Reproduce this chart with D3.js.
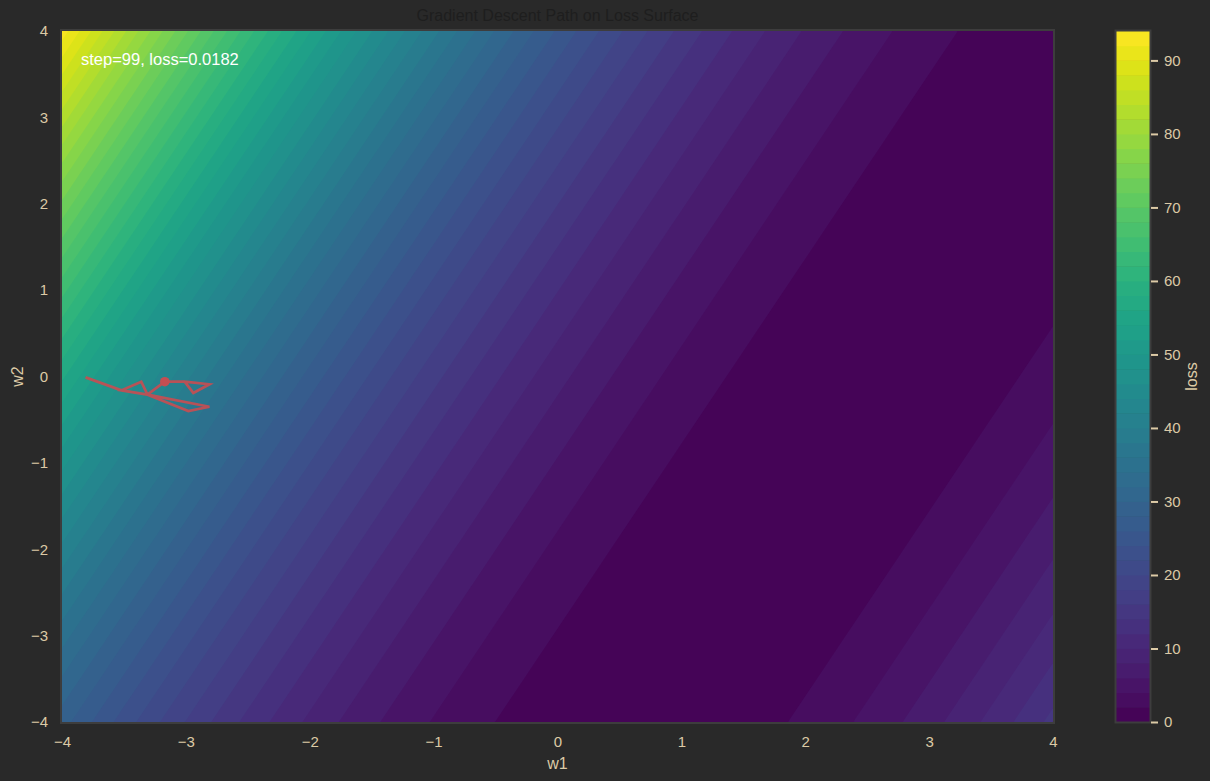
<!DOCTYPE html>
<html>
<head>
<meta charset="utf-8">
<script src="https://cdn.jsdelivr.net/npm/d3@7"></script>
<style>
  html, body { margin: 0; padding: 0; background: #292929; }
  svg { display: block; }
  text { font-family: "Liberation Sans", Arial, "DejaVu Sans", sans-serif; }
</style>
</head>
<body>
<svg id="chart" width="1210" height="781"></svg>
<script>
// ---------------- data ----------------
const xTicks = [-4, -3, -2, -1, 0, 1, 2, 3, 4];
const yTicks = [-4, -3, -2, -1, 0, 1, 2, 3, 4];
const colorbarTicks = [0, 10, 20, 30, 40, 50, 60, 70, 80, 90];
const contourLevels = [0,2,4,6,8,10,12,14,16,18,20,22,24,26,28,30,32,34,36,38,40,42,44,46,
                       48,50,52,54,56,58,60,62,64,66,68,70,72,74,76,78,80,82,84,86,88,90,92,94];
// loss surface, fitted from the band boundaries in the picture:
// loss = curvature * (w1 - valleyW2Slope*w2 - valleyIntercept)^2 + lossFloor
const valleyIntercept = [2.546];
const valleyW2Slope = [0.467];
const curvature = [1.313];
const lossFloor = [0.164];
// descent path (w1, w2)
const pathW1 = [-3.81, -3.52, -3.31, -2.81, -2.98, -3.31, -3.36, -3.52, -3.31, -3.17, -3.01, -2.81, -2.94, -3.01, -3.17];
const pathW2 = [-0.01, -0.16, -0.21, -0.35, -0.40, -0.21, -0.06, -0.16, -0.21, -0.06, -0.06, -0.09, -0.19, -0.06, -0.06];
const currentPoint = [-3.17, -0.06];
const annotation = "step=99, loss=0.0182";
const titleText = "Gradient Descent Path on Loss Surface";

// ---------------- drawing ----------------
const svg = d3.select('#chart');
const L = 62, R = 1053, T = 31, B = 722;
const labelColor = '#dccaa6';
const frameColor = '#3d3d3d';

const x = d3.scaleLinear().domain([-4, 4]).range([L, R]);
const y = d3.scaleLinear().domain([-4, 4]).range([B, T]);

const loss = (w1, w2) => {
  const d = w1 - valleyW2Slope[0] * w2 - valleyIntercept[0];
  return curvature[0] * d * d + lossFloor[0];
};

const nx = R - L, ny = B - T;
const values = new Float64Array(nx * ny);
for (let j = 0; j < ny; j++) {
  const w2 = y.invert(T + j + 0.5);
  for (let i = 0; i < nx; i++) {
    values[j * nx + i] = loss(x.invert(L + i + 0.5), w2);
  }
}
const lowerLevels = contourLevels.slice(0, -1);
const vmin = contourLevels[0], vmax = contourLevels[contourLevels.length - 1];
const color = d3.scaleSequential(d3.interpolateViridis).domain([vmin, vmax]);
const bandColor = (i) => color((contourLevels[i] + contourLevels[i + 1]) / 2);

const contours = d3.contours().size([nx, ny]).thresholds(lowerLevels)(values);

svg.append('defs').append('clipPath').attr('id', 'plotclip')
  .append('rect').attr('x', 0).attr('y', 0).attr('width', nx).attr('height', ny);

const gC = svg.append('g').attr('transform', `translate(${L},${T})`).attr('clip-path', 'url(#plotclip)');
gC.selectAll('path').data(contours).join('path')
  .attr('d', d3.geoPath())
  .attr('fill', (d, i) => bandColor(i))
  .attr('stroke', 'none');

// descent path
const line = d3.line().x(d => x(d[0])).y(d => y(d[1]));
const pts = pathW1.map((w, i) => [w, pathW2[i]]);
svg.append('path').attr('d', line(pts))
  .attr('fill', 'none').attr('stroke', '#c44e52').attr('stroke-width', 2.7)
  .attr('stroke-linejoin', 'miter').attr('opacity', 0.92);
svg.append('circle').attr('cx', x(currentPoint[0])).attr('cy', y(currentPoint[1]))
  .attr('r', 4.8).attr('fill', '#c44e52');

// frame
svg.append('rect').attr('x', L - 1).attr('y', T - 1).attr('width', nx + 2).attr('height', ny + 2)
  .attr('fill', 'none').attr('stroke', frameColor).attr('stroke-width', 2);

// axes
const xAxis = svg.append('g').attr('transform', `translate(0,${B})`)
  .call(d3.axisBottom(x).tickValues(xTicks).tickSize(0).tickPadding(14).tickFormat(d3.format('d')));
const yAxis = svg.append('g').attr('transform', `translate(${L},0)`)
  .call(d3.axisLeft(y).tickValues(yTicks).tickSize(0).tickPadding(14).tickFormat(d3.format('d')));
[xAxis, yAxis].forEach(a => {
  a.select('.domain').remove();
  a.selectAll('text').attr('fill', labelColor).style('font-size', '15px')
    .style('font-family', '"Liberation Sans", Arial, sans-serif');
});

// axis labels
svg.append('text').attr('x', (L + R) / 2).attr('y', 769).attr('text-anchor', 'middle')
  .attr('fill', labelColor).style('font-size', '16px').text('w1');
svg.append('text').attr('transform', `translate(23,${(T + B) / 2}) rotate(-90)`).attr('text-anchor', 'middle')
  .attr('fill', labelColor).style('font-size', '16px').text('w2');

// title
svg.append('text').attr('x', (L + R) / 2).attr('y', 21).attr('text-anchor', 'middle')
  .attr('fill', '#1e1e1e').style('font-size', '16px').text(titleText);

// annotation
svg.append('text').attr('x', 81).attr('y', 65).attr('fill', '#ffffff')
  .style('font-size', '16.5px').text(annotation);

// colorbar
const cbL = 1116, cbR = 1150;
const cbY = d3.scaleLinear().domain([vmin, vmax]).range([B, T]);
const cb = svg.append('g');
cb.selectAll('rect').data(lowerLevels).join('rect')
  .attr('x', cbL).attr('width', cbR - cbL)
  .attr('y', (d, i) => cbY(contourLevels[i + 1]))
  .attr('height', (d, i) => cbY(contourLevels[i]) - cbY(contourLevels[i + 1]) + 0.5)
  .attr('fill', (d, i) => bandColor(i));
cb.append('rect').attr('x', cbL - 0.5).attr('y', T - 0.5).attr('width', cbR - cbL + 1).attr('height', B - T + 1)
  .attr('fill', 'none').attr('stroke', frameColor).attr('stroke-width', 2);
const cbAxis = svg.append('g').attr('transform', `translate(${cbR + 1},0)`)
  .call(d3.axisRight(cbY).tickValues(colorbarTicks).tickSize(7).tickPadding(6).tickFormat(d3.format('d')));
cbAxis.select('.domain').remove();
cbAxis.selectAll('line').attr('stroke', labelColor).attr('stroke-width', 2);
cbAxis.selectAll('text').attr('fill', labelColor).style('font-size', '15px')
  .style('font-family', '"Liberation Sans", Arial, sans-serif');
svg.append('text').attr('transform', `translate(1197,${(T + B) / 2}) rotate(-90)`).attr('text-anchor', 'middle')
  .attr('fill', labelColor).style('font-size', '16px').text('loss');
</script>
</body>
</html>
